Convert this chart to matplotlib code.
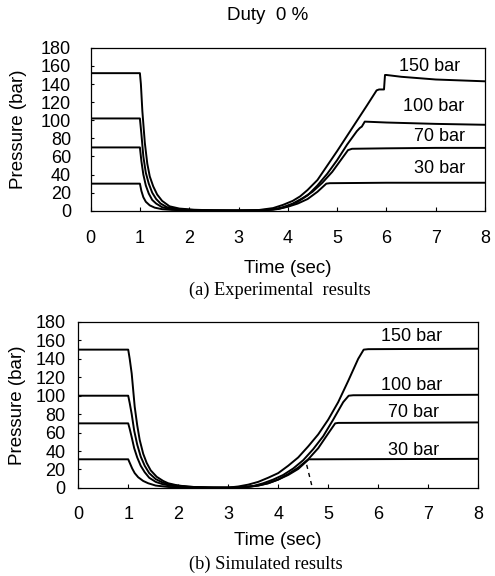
import matplotlib
matplotlib.use("Agg")
import matplotlib.pyplot as plt

plt.rcParams['font.family'] = ['Liberation Sans', 'DejaVu Sans']

title = 'Duty  0 %'
x_ticks = [0, 1, 2, 3, 4, 5, 6, 7, 8]
y_ticks = [0, 20, 40, 60, 80, 100, 120, 140, 160, 180]
labels = ['150 bar', '100 bar', '70 bar', '30 bar']

# (a) experimental
exp_t_150 = [0, 1.0, 1.02, 1.05, 1.1, 1.15, 1.2, 1.27, 1.35, 1.45, 1.6, 1.8, 2.1, 2.5, 3.0, 3.4, 3.7,
             3.9, 4.1, 4.25, 4.4, 4.6, 4.8, 5.0, 5.3, 5.6, 5.8, 5.85, 5.95, 5.97, 6.0, 6.3, 7.0, 8.0]
exp_p_150 = [152, 152, 140, 110, 75, 52, 38, 27, 18, 11, 5, 2.5, 1.2, 0.5, 0.3, 0.8, 3,
             6.5, 11, 16, 23, 34, 50, 66, 91, 116, 133, 134, 134, 150, 150, 148, 145, 143]
exp_t_100 = [0, 1.0, 1.03, 1.07, 1.12, 1.18, 1.25, 1.33, 1.42, 1.55, 1.75, 2.0, 2.5, 3.0, 3.5, 3.8,
             4.0, 4.2, 4.4, 4.6, 4.8, 5.0, 5.2, 5.4, 5.46, 5.5, 5.56, 6.0, 7.0, 8.0]
exp_p_100 = [102, 102, 85, 60, 42, 30, 20, 13, 8, 4, 2, 1, 0.5, 0.3, 0.5, 2,
             5, 10, 17, 28, 41, 56, 73, 88, 91.5, 93, 98.5, 97.5, 96, 95]
exp_t_70 = [0, 1.0, 1.03, 1.07, 1.12, 1.18, 1.25, 1.33, 1.45, 1.6, 1.85, 2.2, 2.8, 3.3, 3.7, 3.9,
            4.1, 4.3, 4.5, 4.7, 4.9, 5.1, 5.22, 5.3, 6.0, 7.0, 8.0]
exp_p_70 = [70, 70, 55, 40, 28, 19, 12, 8, 4, 2, 1, 0.5, 0.3, 0.4, 1.5, 4,
            8, 14, 21, 31, 43, 58, 67, 68.5, 69, 69.5, 69.5]
exp_t_30 = [0, 1.0, 1.03, 1.07, 1.12, 1.2, 1.3, 1.45, 1.65, 2.0, 2.5, 3.0, 3.5, 3.8, 4.0, 4.2,
            4.4, 4.6, 4.78, 4.85, 6.0, 7.0, 8.0]
exp_p_30 = [30, 30, 22, 15, 10, 6, 3.5, 1.8, 1, 0.5, 0.3, 0.3, 0.6, 2, 4.5, 8,
            13, 21, 30, 30.5, 31, 31, 31]

# (b) simulated
sim_t_150 = [0, 1.0, 1.03, 1.07, 1.13, 1.18, 1.23, 1.3, 1.37, 1.45, 1.57, 1.7, 1.8, 2.0, 2.3, 2.7,
             3.0, 3.2, 3.4, 3.6, 3.8, 4.0, 4.2, 4.4, 4.6, 4.8, 5.0, 5.2, 5.4, 5.6, 5.71, 5.8, 8.0]
sim_p_150 = [150, 150, 140, 124, 88, 68, 52, 37, 27, 19, 12, 7.5, 5, 2.5, 1, 0.3,
             0.3, 1.5, 3.5, 6.5, 11, 16, 24, 33, 45, 58, 74, 93, 116, 140, 150, 150.5, 151]
sim_t_100 = [0, 1.0, 1.03, 1.07, 1.12, 1.18, 1.25, 1.33, 1.42, 1.55, 1.7, 1.9, 2.2, 2.6, 3.0, 3.3,
             3.5, 3.7, 3.9, 4.1, 4.3, 4.5, 4.7, 4.9, 5.1, 5.3, 5.41, 5.5, 8.0]
sim_p_100 = [100, 100, 92, 80, 62, 47, 34, 24, 16, 9.5, 5.5, 3, 1.2, 0.4, 0.2, 0.8,
             2, 5, 9, 14, 21, 30, 42, 56, 74, 93, 100, 100.5, 101]
sim_t_70 = [0, 1.0, 1.03, 1.07, 1.12, 1.18, 1.25, 1.33, 1.42, 1.55, 1.7, 1.9, 2.2, 2.6, 3.1, 3.4,
            3.6, 3.8, 4.0, 4.2, 4.4, 4.6, 4.8, 5.0, 5.14, 5.2, 8.0]
sim_p_70 = [70, 70, 64, 55, 43, 33, 24, 17, 11, 6.5, 3.8, 2, 0.8, 0.3, 0.2, 1,
            2.5, 5, 9, 15, 22, 31, 43, 59, 70, 70.5, 71]
sim_t_30 = [0, 1.0, 1.04, 1.08, 1.13, 1.2, 1.3, 1.4, 1.55, 1.8, 2.1, 2.5, 3.0, 3.3, 3.6, 3.8,
            4.0, 4.2, 4.4, 4.61, 4.7, 8.0]
sim_p_30 = [31, 31, 26, 21, 16, 11.5, 7.5, 5, 2.5, 1, 0.4, 0.2, 0.2, 0.8, 2.5, 5,
            9, 14, 20.5, 31, 31, 31.5]
dash_t = [4.57, 4.67]
dash_p = [25, 3]

exp_curves = [(exp_t_150, exp_p_150), (exp_t_100, exp_p_100), (exp_t_70, exp_p_70), (exp_t_30, exp_p_30)]
sim_curves = [(sim_t_150, sim_p_150), (sim_t_100, sim_p_100), (sim_t_70, sim_p_70), (sim_t_30, sim_p_30)]

fig = plt.figure(figsize=(4.95, 5.76), dpi=100)
ax1 = fig.add_axes([0.183, 0.634, 0.797, 0.283])
ax2 = fig.add_axes([0.158, 0.153, 0.808, 0.288])


def style_axes(ax, xpad, ypad, xlab_y, ylab_x):
    ax.set_xlim(0, 8)
    ax.set_ylim(0, 180)
    ax.set_xticks(x_ticks)
    ax.set_yticks(y_ticks)
    ax.tick_params(axis='x', direction='in', length=3, pad=xpad, labelsize=13)
    ax.tick_params(axis='y', direction='in', length=2, pad=ypad, labelsize=13)
    ax.set_xlabel('Time (sec)', fontsize=13.5)
    ax.set_ylabel('Pressure (bar)', fontsize=13.5)
    ax.xaxis.set_label_coords(0.5, xlab_y)
    ax.yaxis.set_label_coords(ylab_x, 0.5)
    for s in ax.spines.values():
        s.set_linewidth(0.9)


# (a)
for t, p in exp_curves:
    ax1.plot(t, p, color='black', lw=1.4)
style_axes(ax1, 14, 14, -0.30, -0.162)
ax1.text(6.88, 159, labels[0], fontsize=13, ha='center', va='center')
ax1.text(6.95, 115, labels[1], fontsize=13, ha='center', va='center')
ax1.text(7.08, 82, labels[2], fontsize=13, ha='center', va='center')
ax1.text(7.08, 47, labels[3], fontsize=13, ha='center', va='center')

# (b)
for t, p in sim_curves:
    ax2.plot(t, p, color='black', lw=1.4)
ax2.plot(dash_t, dash_p, color='black', lw=1.0, linestyle=(0, (3, 3)))
style_axes(ax2, 13, 9, -0.265, -0.13)
ax2.text(6.67, 164, labels[0], fontsize=13, ha='center', va='center')
ax2.text(6.67, 111, labels[1], fontsize=13, ha='center', va='center')
ax2.text(6.71, 82, labels[2], fontsize=13, ha='center', va='center')
ax2.text(6.71, 40.5, labels[3], fontsize=13, ha='center', va='center')

fig.text(0.54, 1 - 15 / 576, title, fontsize=13.5, ha='center', va='center')
fig.text(0.566, 1 - 290 / 576, '(a) Experimental  results', fontsize=13.2,
         family='Liberation Serif', ha='center', va='center')
fig.text(0.538, 1 - 564 / 576, '(b) Simulated results', fontsize=13.2,
         family='Liberation Serif', ha='center', va='center')

fig.savefig('out.png', dpi=100)
